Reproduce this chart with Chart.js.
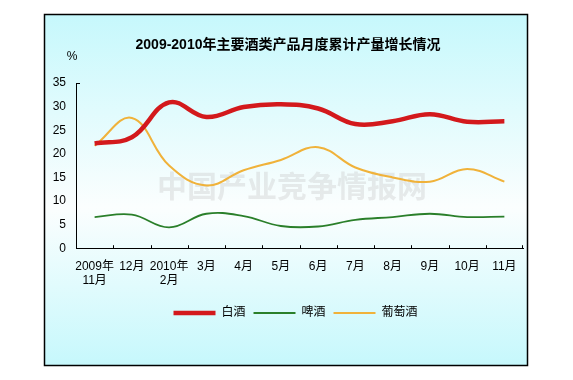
<!DOCTYPE html>
<html>
<head>
<meta charset="utf-8">
<script src="https://cdn.jsdelivr.net/npm/chart.js@4.4.1/dist/chart.umd.min.js"></script>
<style>
  html, body { margin: 0; padding: 0; background: #fff; }
  #c { display: block; }
</style>
</head>
<body>
<canvas id="c" width="573" height="380"></canvas>
<script>
// Data
const categories = [['2009年', '11月'], '12月', ['2010年', '2月'], '3月', '4月', '5月', '6月', '7月', '8月', '9月', '10月', '11月'];
const baijiu = [22.2, 23.5, 30.9, 27.8, 29.9, 30.5, 29.6, 26.3, 26.9, 28.4, 26.8, 26.9];
const beer = [6.6, 7.1, 4.4, 7.3, 6.8, 4.7, 4.6, 6.0, 6.6, 7.3, 6.6, 6.7];
const wine = [21.7, 27.6, 17.5, 13.3, 16.5, 18.7, 21.4, 17.1, 15.0, 14.1, 16.8, 14.1];
const yTicks = [0, 5, 10, 15, 20, 25, 30, 35];

const FONT = "'Liberation Sans', 'Noto Sans CJK SC', sans-serif";

// Frame, gradient fill, title, unit and watermark
const decor = {
  id: 'decor',
  afterLayout(chart) {
    // the original legend sits a bit right of centre
    const lg = chart.legend;
    if (lg) { lg.left += 34; lg.right += 34; }
  },
  beforeDraw(chart) {
    const ctx = chart.ctx;
    ctx.save();
    ctx.fillStyle = '#fff';
    ctx.fillRect(0, 0, chart.width, chart.height);
    const g = ctx.createLinearGradient(0, 14, 0, 366);
    g.addColorStop(0, '#c6f8fc');
    g.addColorStop(0.55, '#fbfefe');
    g.addColorStop(1, '#c6f8fc');
    ctx.fillStyle = g;
    ctx.fillRect(44, 14, 484, 352);
    ctx.strokeStyle = '#000';
    ctx.lineWidth = 1.5;
    ctx.strokeRect(44.5, 14.5, 483, 351);

    ctx.fillStyle = '#000';
    ctx.textAlign = 'center';
    ctx.textBaseline = 'middle';
    ctx.font = "bold 14px " + FONT;
    ctx.fillText('2009-2010年主要酒类产品月度累计产量增长情况', 288, 45);
    ctx.font = "12px " + FONT;
    ctx.fillText('%', 72, 57);

    ctx.fillStyle = 'rgba(190, 190, 190, 0.3)';
    ctx.font = "bold 30px 'Noto Sans CJK SC', serif";
    ctx.fillText('中国产业竞争情报网', 292, 186);
    ctx.restore();
  },
  afterDraw(chart) {
    // short inward tick marks like the original
    const ctx = chart.ctx;
    const x = chart.scales.x, y = chart.scales.y;
    const a = chart.chartArea;
    ctx.save();
    ctx.strokeStyle = '#000';
    ctx.lineWidth = 1;
    ctx.beginPath();
    for (let i = 1; i <= categories.length; i++) {
      const px = Math.round((x.getPixelForValue(i - 1) + x.getPixelForValue(i)) / 2) + 0.5;
      const xx = i === categories.length ? a.right - 0.5 : px;
      ctx.moveTo(xx, a.bottom);
      ctx.lineTo(xx, a.bottom - 3);
    }
    const ty = Math.round(y.getPixelForValue(35)) + 0.5;
    ctx.moveTo(a.left, ty);
    ctx.lineTo(a.left + 4, ty);
    ctx.stroke();
    ctx.restore();
  }
};

new Chart(document.getElementById('c'), {
  type: 'line',
  data: {
    labels: categories,
    datasets: [
      {
        label: '白酒',
        data: baijiu,
        borderColor: '#d3191c',
        backgroundColor: '#d3191c',
        borderWidth: 4.5,
        pointRadius: 0,
        pointStyle: 'line',
        tension: 0.4
      },
      {
        label: '啤酒',
        data: beer,
        borderColor: '#2a7f2a',
        backgroundColor: '#2a7f2a',
        borderWidth: 1.8,
        pointRadius: 0,
        pointStyle: 'line',
        tension: 0.4
      },
      {
        label: '葡萄酒',
        data: wine,
        borderColor: '#f0b23a',
        backgroundColor: '#f0b23a',
        borderWidth: 2,
        pointRadius: 0,
        pointStyle: 'line',
        tension: 0.4
      }
    ]
  },
  options: {
    responsive: false,
    animation: false,
    devicePixelRatio: 1,
    layout: { padding: { left: 0, right: 50, top: 83, bottom: 51 } },
    plugins: {
      title: { display: false },
      tooltip: { enabled: false },
      legend: {
        position: 'bottom',
        labels: {
          usePointStyle: true,
          pointStyleWidth: 42,
          boxHeight: 10,
          padding: 8,
          color: '#000',
          font: { family: FONT, size: 12 }
        }
      }
    },
    scales: {
      x: {
        offset: true,
        grid: { display: false, drawTicks: false },
        border: { display: true, color: '#000', width: 1 },
        ticks: {
          color: '#000',
          font: { family: FONT, size: 12 },
          maxRotation: 0,
          autoSkip: false,
          padding: 11
        }
      },
      y: {
        min: 0,
        max: 35,
        afterBuildTicks: s => { s.ticks = yTicks.map(v => ({ value: v })); },
        afterFit: s => { s.width = 76; },
        grid: { display: false, drawTicks: false },
        border: { display: true, color: '#000', width: 1 },
        ticks: {
          color: '#000',
          font: { family: FONT, size: 12 },
          padding: 10
        }
      }
    }
  },
  plugins: [decor]
});
</script>
</body>
</html>
